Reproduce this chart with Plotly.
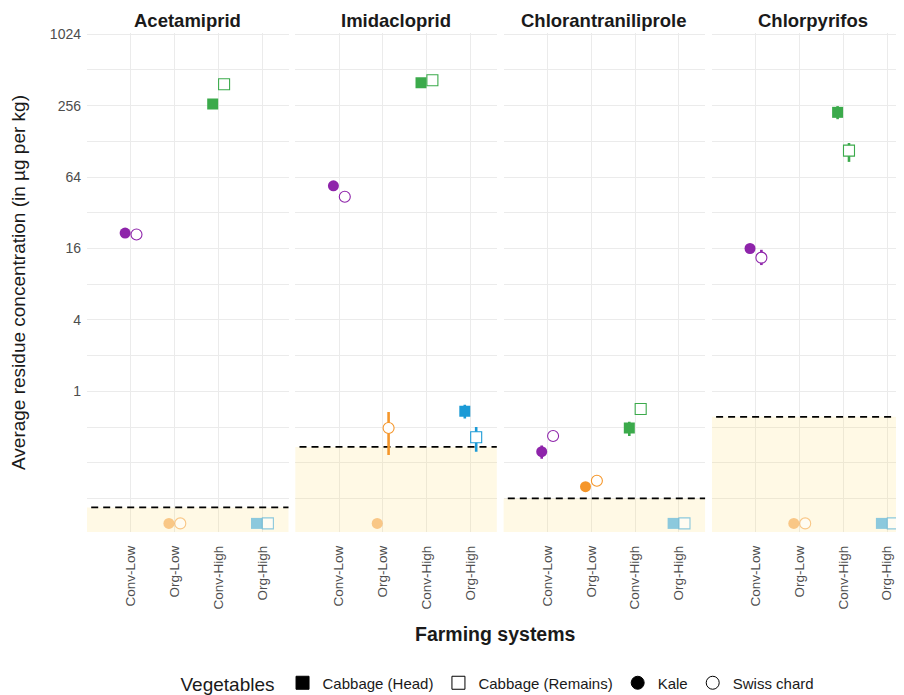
import math
import plotly.graph_objects as go

# ---------------- data ----------------
pesticides = ["Acetamiprid", "Imidacloprid", "Chlorantraniliprole", "Chlorpyrifos"]
systems = ["Conv-Low", "Org-Low", "Conv-High", "Org-High"]
y_tick_labels = ["1", "4", "16", "64", "256", "1024"]

# limit of quantification per pesticide (µg/kg)
loq = [0.105, 0.34, 0.125, 0.61]
# plotting position used for residues below LOQ
below_loq_value = 0.077

# mean residues per pesticide (None = below LOQ)
kale_conv_low = [21.6, 54.0, 0.31, 16.0]
kale_org_low = [None, None, 0.157, None]
swiss_conv_low = [21.0, 43.7, 0.42, 13.4]
swiss_org_low = [None, 0.49, 0.176, None]
head_conv_high = [265.0, 399.0, 0.49, 225.0]
head_org_high = [None, 0.68, None, None]
remains_conv_high = [388.0, 420.0, 0.71, 107.0]
remains_org_high = [None, 0.41, None, None]

# error bar ranges (None = no bar)
kale_conv_low_lo = [None, None, 0.27, None]
kale_conv_low_hi = [None, None, 0.35, None]
swiss_conv_low_lo = [None, None, None, 11.6]
swiss_conv_low_hi = [None, None, None, 15.6]
swiss_org_low_lo = [None, 0.29, None, None]
swiss_org_low_hi = [None, 0.67, None, None]
head_conv_high_lo = [252.0, None, 0.42, 197.0]
head_conv_high_hi = [276.0, None, 0.555, 254.0]
head_org_high_lo = [None, 0.59, None, None]
head_org_high_hi = [None, 0.77, None, None]
remains_conv_high_lo = [None, None, None, 86.0]
remains_conv_high_hi = [None, None, None, 124.0]
remains_org_high_lo = [None, 0.31, None, None]
remains_org_high_hi = [None, 0.50, None, None]

vegetables = ["Cabbage (Head)", "Cabbage (Remains)", "Kale", "Swiss chard"]

# ---------------- styles ----------------
system_colors = {"Conv-Low": "#8E24AA", "Org-Low": "#F5962A",
                 "Conv-High": "#3BAA4B", "Org-High": "#1B9AD6"}
veg_symbol = {"Cabbage (Head)": "square", "Cabbage (Remains)": "square",
              "Kale": "circle", "Swiss chard": "circle"}
veg_open = {"Cabbage (Head)": False, "Cabbage (Remains)": True,
            "Kale": False, "Swiss chard": True}
veg_dodge = {"Cabbage (Head)": -0.13, "Cabbage (Remains)": 0.13,
             "Kale": -0.13, "Swiss chard": 0.13}

series = [
    ("Kale", "Conv-Low", kale_conv_low, kale_conv_low_lo, kale_conv_low_hi),
    ("Swiss chard", "Conv-Low", swiss_conv_low, swiss_conv_low_lo, swiss_conv_low_hi),
    ("Kale", "Org-Low", kale_org_low, [None] * 4, [None] * 4),
    ("Swiss chard", "Org-Low", swiss_org_low, swiss_org_low_lo, swiss_org_low_hi),
    ("Cabbage (Head)", "Conv-High", head_conv_high, head_conv_high_lo, head_conv_high_hi),
    ("Cabbage (Remains)", "Conv-High", remains_conv_high, remains_conv_high_lo, remains_conv_high_hi),
    ("Cabbage (Head)", "Org-High", head_org_high, head_org_high_lo, head_org_high_hi),
    ("Cabbage (Remains)", "Org-High", remains_org_high, remains_org_high_lo, remains_org_high_hi),
]

FONT = "Liberation Sans, Arial, sans-serif"
OFF = 8  # default page body margin of the written html
W, H = 904 - OFF, 695 - OFF
L, R, T = 87 - OFF, 0, 33 - OFF
B = H - (532 - OFF)
plot_w = W - L - R
plot_h = H - T - B
unit = 43.8
panel_step = 208.3
panel_w = 201.5


def px_x(px):
    return (px - OFF - L) / plot_w


def px_y(py):
    return (T + plot_h - (py - OFF)) / plot_h


y_lo_log2, y_hi_log2 = -3.94, 10.036
y_range = [y_lo_log2 * math.log10(2), y_hi_log2 * math.log10(2)]
grid_vals = [2.0 ** e for e in range(-3, 11)]
grid_text = []
for v in grid_vals:
    s = str(int(v)) if v >= 1 else ""
    grid_text.append(s if s in y_tick_labels else "")

fig = go.Figure()
layout = {}

for k, pest in enumerate(pesticides):
    left = k * panel_step
    right = min(left + panel_w, plot_w)
    xs = "" if k == 0 else str(k + 1)
    xa, ya = "x" + xs, "y" + xs
    layout["xaxis" + xs] = dict(
        domain=[left / plot_w, right / plot_w], anchor=ya,
        range=[0, (right - left) / unit],
        tickvals=[1, 2, 3, 4], ticktext=systems, tickangle=-90,
        showgrid=True, gridcolor="#EBEBEB", gridwidth=1,
        zeroline=False, showline=False, ticks="", automargin=False,
        ticklabelstandoff=10,
        tickfont=dict(family=FONT, size=13.5, color="#4D4D4D"),
        fixedrange=True,
    )
    yd = dict(
        domain=[0, 1], anchor=xa, type="log", range=y_range,
        tickvals=grid_vals, ticktext=grid_text,
        showgrid=True, gridcolor="#EBEBEB", gridwidth=1,
        zeroline=False, showline=False, ticks="", automargin=False,
        showticklabels=(k == 0), ticklabelstandoff=5,
        tickfont=dict(family=FONT, size=14, color="#4D4D4D"),
        fixedrange=True,
    )
    if k > 0:
        yd["matches"] = "y"
    layout["yaxis" + xs] = yd

    # LOQ shaded region
    fig.add_trace(go.Scatter(
        x=[-1, 10, 10, -1], y=[0.001, 0.001, loq[k], loq[k]],
        xaxis=xa, yaxis=ya, mode="lines", fill="toself",
        fillcolor="rgba(255,222,110,0.18)", line=dict(width=0),
        showlegend=False, hoverinfo="skip"))
    # LOQ dashed line
    fig.add_trace(go.Scatter(
        x=[-1, 10], y=[loq[k], loq[k]], xaxis=xa, yaxis=ya, mode="lines",
        line=dict(color="black", width=1.7, dash="7px,5px"),
        showlegend=False, hoverinfo="skip"))

    for veg, sysname, vals, los, his in series:
        v = vals[k]
        below = v is None
        yv = below_loq_value if below else v
        xv = systems.index(sysname) + 1 + veg_dodge[veg]
        col = system_colors[sysname]
        marker = dict(symbol=veg_symbol[veg], size=11,
                      color="white" if veg_open[veg] else col,
                      line=dict(color=col, width=1.1 if veg_open[veg] else 0))
        tr = dict(x=[xv], y=[yv], xaxis=xa, yaxis=ya, mode="markers",
                  marker=marker, showlegend=False, opacity=0.5 if below else 1.0,
                  hoverinfo="skip")
        if not below and los[k] is not None:
            tr["error_y"] = dict(type="data", symmetric=False,
                                 array=[his[k] - v], arrayminus=[v - los[k]],
                                 color=col, thickness=2.6, width=0)
        fig.add_trace(go.Scatter(**tr))

    # panel title
    fig.add_annotation(
        x=(left + panel_w / 2) / plot_w, y=px_y(20),
        xref="paper", yref="paper", text="<b>%s</b>" % pest, showarrow=False,
        xanchor="center", yanchor="middle",
        font=dict(family=FONT, size=18.5, color="#1A1A1A"))

# legend dummy traces
for veg in vegetables:
    fig.add_trace(go.Scatter(
        x=[None], y=[None], mode="markers", name=veg,
        marker=dict(symbol=veg_symbol[veg] + ("-open" if veg_open[veg] else ""),
                    size=13, color="black", line=dict(color="black", width=1))))

# axis titles
fig.add_annotation(x=px_x(495), y=px_y(634), xref="paper", yref="paper",
                   text="<b>Farming systems</b>", showarrow=False,
                   xanchor="center", yanchor="middle",
                   font=dict(family=FONT, size=19.5, color="#1A1A1A"))
fig.add_annotation(x=px_x(18), y=px_y(283), xref="paper", yref="paper",
                   text="Average residue concentration (in µg per kg)", showarrow=False,
                   textangle=-90, xanchor="center", yanchor="middle",
                   font=dict(family=FONT, size=19, color="#1A1A1A"))

fig.update_layout(
    template="none",
    width=W, height=H,
    margin=dict(l=L, r=R, t=T, b=B, autoexpand=False),
    paper_bgcolor="white", plot_bgcolor="white",
    font=dict(family=FONT, color="#1A1A1A"),
    legend=dict(orientation="h", xref="container", x=(499 - OFF) / W, xanchor="center",
                yref="container", y=1 - (684 - OFF) / H, yanchor="middle",
                title=dict(text="Vegetables", font=dict(size=19, family=FONT, color="#1A1A1A"),
                           side="left"),
                font=dict(size=15, family=FONT, color="#1A1A1A"),
                itemwidth=30, bgcolor="rgba(0,0,0,0)", borderwidth=0),
    **layout,
)

fig.write_html("out.html")
